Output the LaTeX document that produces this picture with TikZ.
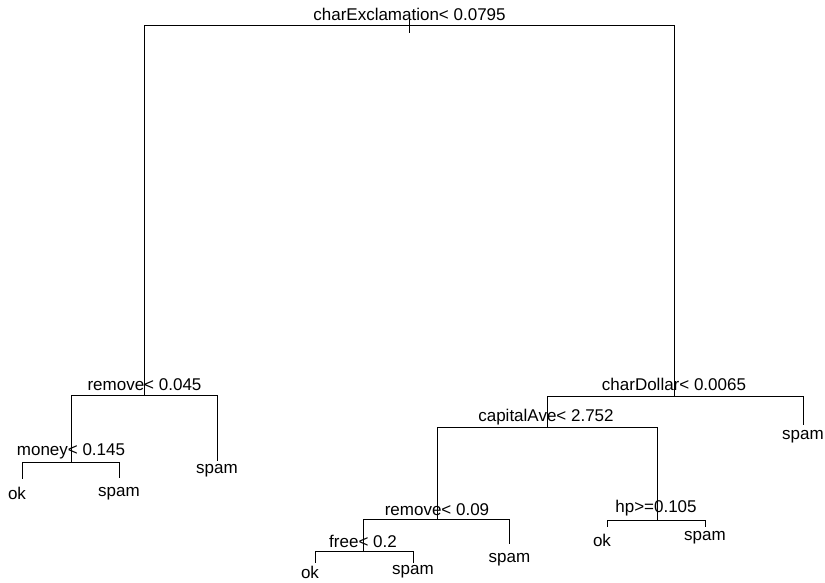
\documentclass[tikz,border=0pt]{standalone}
\usepackage{fontspec}
\setmainfont{Liberation Sans}
\begin{document}
\begin{tikzpicture}[x=1pt,y=-1pt,
  every node/.style={inner sep=0pt,font=\fontsize{17}{20}\selectfont},
  branch/.style={line width=0.9pt,black},
  splitlabel/.style={anchor=base},
  leaflabel/.style={anchor=center}]
\useasboundingbox (0,0) rectangle (825,582);
% tree junctions
\coordinate (root) at (409,25);
\coordinate (tickT) at (409,16);
\coordinate (tickB) at (409,33);
\coordinate (rem1) at (144,395);
\coordinate (money) at (71,462);
\coordinate (lA) at (22,479);
\coordinate (lB) at (119,478);
\coordinate (lC) at (217,461);
\coordinate (cdol) at (674,396);
\coordinate (lD) at (803,425);
\coordinate (cap) at (547,427);
\coordinate (rem2) at (437,519.5);
\coordinate (free) at (363,551.5);
\coordinate (lE) at (315,563);
\coordinate (lF) at (413,563);
\coordinate (lG) at (509.5,544);
\coordinate (hp) at (657,520);
\coordinate (lH) at (607,527);
\coordinate (lI) at (705,527);
% branches
\draw[branch] (tickT) -- (tickB);
\draw[branch] (root) -| (rem1);
\draw[branch] (root) -| (cdol);
\draw[branch] (rem1) -| (money);
\draw[branch] (rem1) -| (lC);
\draw[branch] (money) -| (lA);
\draw[branch] (money) -| (lB);
\draw[branch] (cdol) -| (cap);
\draw[branch] (cdol) -| (lD);
\draw[branch] (cap) -| (rem2);
\draw[branch] (cap) -| (hp);
\draw[branch] (rem2) -| (free);
\draw[branch] (rem2) -| (lG);
\draw[branch] (free) -| (lE);
\draw[branch] (free) -| (lF);
\draw[branch] (hp) -| (lH);
\draw[branch] (hp) -| (lI);
% split labels
\node[splitlabel] (troot) at (409.5,20.7) {charExclamation< 0.0795};
\node[splitlabel] (trem1) at (144.5,390.7) {remove< 0.045};
\node[splitlabel] (tmoney) at (71,455) {money< 0.145};
\node[splitlabel] (tcdol) at (674,390.7) {charDollar< 0.0065};
\node[splitlabel] (tcap) at (546,421.7) {capitalAve< 2.752};
\node[splitlabel] (trem2) at (437,515) {remove< 0.09};
\node[splitlabel] (tfree) at (363,547.3) {free< 0.2};
\node[splitlabel] (thp) at (656,512.7) {hp>=0.105};
% leaf labels
\node[leaflabel] (tA) at (17,493.5) {ok};
\node[leaflabel] (tB) at (119,493.5) {spam};
\node[leaflabel] (tC) at (217,471) {spam};
\node[leaflabel] (tD) at (803,437) {spam};
\node[leaflabel] (tE) at (310,572.5) {ok};
\node[leaflabel] (tF) at (413,572) {spam};
\node[leaflabel] (tG) at (509.5,560) {spam};
\node[leaflabel] (tH) at (602,540) {ok};
\node[leaflabel] (tI) at (705,538) {spam};
\end{tikzpicture}
\end{document}
